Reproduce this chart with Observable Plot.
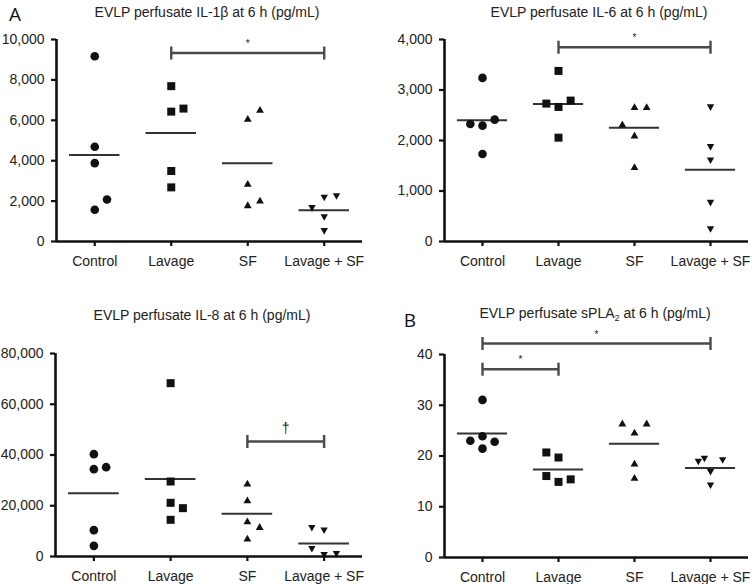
<!DOCTYPE html>
<html><head><meta charset="utf-8">
<script src="https://cdn.jsdelivr.net/npm/d3@7"></script>
<script src="https://cdn.jsdelivr.net/npm/@observablehq/plot@0.6"></script>
<style>
body{margin:0;background:#fff;font-family:"Liberation Sans",Arial,sans-serif;}
#chart{position:relative;width:752px;height:584px;overflow:hidden;background:#fff;}
.panel{position:absolute;}
.panel svg{overflow:visible;}
.title{position:absolute;font-size:14px;color:#222;white-space:nowrap;transform:translate(-50%,-50%);line-height:1;}
.title sub{font-size:9px;vertical-align:-3px;line-height:0;}
.letter{position:absolute;font-family:"Open Sans",sans-serif;font-size:19px;color:#111;transform:translate(-50%,-50%);line-height:1;}
</style></head><body><div id="chart"></div>
<script>
// ---- data ----
const groups = ["Control", "Lavage", "SF", "Lavage + SF"];

// IL-1β (pg/mL)
const il1bValues = [[9170, 4690, 3880, 2080, 1570], [7690, 6430, 6580, 3490, 2680], [6545, 6100, 2880, 2050, 1820], [2150, 2230, 1640, 1190, 500]];
const il1bColumns = [[0, 0, 0, 1, 0], [0, 0, 1, 0, 0], [1, 0, 0, 1, 0], [0, 1, -1, 0, 0]];
const il1bTicks = [0, 2000, 4000, 6000, 8000, 10000];
const il1bSig = [{from: 1, to: 3, level: 9330, mark: "*"}];

// IL-6 (pg/mL)
const il6Values = [[3240, 2327, 2294, 2413, 1732], [3378, 2731, 2664, 2790, 2056], [2671, 2671, 2327, 2109, 1481], [2651, 1864, 1600, 760, 238]];
const il6Columns = [[0, -1, 0, 1, 0], [0, -1, 0, 1, 0], [0, 1, -1, 0, 0], [0, 0, 0, 0, 0]];
const il6Ticks = [0, 1000, 2000, 3000, 4000];
const il6Sig = [{from: 1, to: 3, level: 3847, mark: "*"}];

// IL-8 (pg/mL)
const il8Values = [[40330, 34420, 35200, 10380, 4200], [68310, 29560, 21150, 19050, 14450], [28900, 22330, 14060, 11820, 7230], [11170, 10120, 2890, 530, 920]];
const il8Columns = [[0, 0, 1, 0, 0], [0, 0, 0, 1, 0], [0, 0, 0, 1, 0], [-1, 0, -1, 0, 1]];
const il8Ticks = [0, 20000, 40000, 60000, 80000];
const il8Sig = [{from: 2, to: 3, level: 45320, mark: "†"}];

// sPLA2 (pg/mL)
const splaValues = [[31.05, 23.9, 23.0, 22.8, 21.45], [20.7, 19.7, 16.05, 14.9, 15.4], [26.5, 26.5, 24.7, 18.6, 15.8], [18.8, 19.4, 19.1, 16.8, 14.15]];
const splaColumns = [[0, 0, -1, 1, 0], [-1, 0, -1, 0, 1], [-1, 1, 0, 0, 0], [-1, -0.5, 1, 0, 0]];
const splaTicks = [0, 10, 20, 30, 40];
const splaSig = [{from: 0, to: 3, level: 42.17, mark: "*"}, {from: 0, to: 1, level: 37.1, mark: "*"}];

// ---- symbols ----
const symCircle = {draw(c, size) { const r = Math.sqrt(size / Math.PI) * 1.08; c.moveTo(r, 0); c.arc(0, 0, r, 0, 2 * Math.PI); c.closePath(); }};
const symSquare = {draw(c, size) { const r = Math.sqrt(size / Math.PI); c.rect(-r, -r, 2 * r, 2 * r); }};
const symTriUp = {draw(c, size) { const r = Math.sqrt(size / Math.PI); const w = 0.98 * r, h = 0.85 * r; c.moveTo(0, -h); c.lineTo(w, h); c.lineTo(-w, h); c.closePath(); }};
const symTriDown = {draw(c, size) { const r = Math.sqrt(size / Math.PI); const w = 0.92 * r, h = 0.82 * r; c.moveTo(0, h); c.lineTo(w, -h); c.lineTo(-w, -h); c.closePath(); }};
const symCap = {draw(c, size) { const r = Math.sqrt(size / Math.PI); c.moveTo(0, -r); c.lineTo(0, r); }};
const groupSymbols = [symCircle, symSquare, symTriUp, symTriDown];

const JITTER = 0.16, HALF_MEAN = 0.33;

function panel({values, columns, ticks, sig, width, height, marginLeft, marginRight, marginTop, marginBottom}) {
  const rows = [];
  values.forEach((vals, g) => vals.forEach((v, k) => rows.push({g, v, col: columns[g][k]})));
  const means = values.map((vals, g) => ({g, mean: d3.mean(vals)}));
  const xDomain = [-0.5, groups.length - 0.5];
  const yMax = d3.max(ticks);
  const caps = sig.flatMap(s => [{x: s.from, level: s.level}, {x: s.to, level: s.level}]);
  const stars = sig.filter(s => s.mark === "*");
  const daggers = sig.filter(s => s.mark !== "*");
  return Plot.plot({
    width, height, marginLeft, marginRight, marginTop, marginBottom,
    style: {fontFamily: "Liberation Sans, Arial, sans-serif", fontSize: "14px", color: "#222", background: "transparent", overflow: "visible"},
    x: {domain: xDomain, label: null},
    y: {domain: [0, yMax], label: null},
    marks: [
      Plot.axisY({ticks, tickFormat: d3.format(","), tickSize: 5, tickPadding: 7, strokeWidth: 2.2, stroke: "#111", fill: "#222", fontSize: 14, label: null}),
      Plot.axisX({ticks: groups.map((_, i) => i), tickFormat: i => groups[i], tickSize: 5, tickPadding: 10, strokeWidth: 2.2, stroke: "#111", fill: "#222", fontSize: 14, label: null}),
      Plot.ruleX([xDomain[0]], {stroke: "#111", strokeWidth: 2.6}),
      Plot.ruleY([0], {stroke: "#111", strokeWidth: 2.6}),
      Plot.ruleY(means, {x1: d => d.g - HALF_MEAN, x2: d => d.g + HALF_MEAN, y: "mean", stroke: "#333", strokeWidth: 2}),
      ...groupSymbols.map((sym, g) => Plot.dot(rows.filter(d => d.g === g), {x: d => d.g + d.col * JITTER, y: "v", symbol: sym, r: 4, fill: "#111", stroke: "none"})),
      Plot.ruleY(sig, {x1: "from", x2: "to", y: "level", stroke: "#4a4a4a", strokeWidth: 2.4}),
      Plot.dot(caps, {x: "x", y: "level", symbol: symCap, r: 6.5, fill: "none", stroke: "#4a4a4a", strokeWidth: 2.4}),
      Plot.text(stars, {x: d => (d.from + d.to) / 2, y: "level", text: "mark", dy: -9, lineAnchor: "middle", fontSize: 10, fill: "#222"}),
      Plot.text(daggers, {x: d => (d.from + d.to) / 2, y: "level", text: "mark", dy: -13, lineAnchor: "middle", fontSize: 14, fill: "#222"})
    ]
  });
}

const chart = document.getElementById("chart");
function place(el, left, top) { const d = document.createElement("div"); d.className = "panel"; d.style.left = left + "px"; d.style.top = top + "px"; d.appendChild(el); chart.appendChild(d); }
function label(html, cls, x, y) { const d = document.createElement("div"); d.className = cls; d.innerHTML = html; d.style.left = x + "px"; d.style.top = y + "px"; chart.appendChild(d); }

place(panel({values: il1bValues, columns: il1bColumns, ticks: il1bTicks, sig: il1bSig, width: 376, height: 280, marginLeft: 56, marginRight: 14, marginTop: 39, marginBottom: 39}), 0, 0);
place(panel({values: il6Values, columns: il6Columns, ticks: il6Ticks, sig: il6Sig, width: 376, height: 280, marginLeft: 68, marginRight: 4, marginTop: 39, marginBottom: 39}), 376, 0);
place(panel({values: il8Values, columns: il8Columns, ticks: il8Ticks, sig: il8Sig, width: 376, height: 294, marginLeft: 55, marginRight: 14, marginTop: 63, marginBottom: 28}), 0, 290);
place(panel({values: splaValues, columns: splaColumns, ticks: splaTicks, sig: splaSig, width: 376, height: 294, marginLeft: 68, marginRight: 4, marginTop: 64, marginBottom: 27}), 376, 290);

label("EVLP perfusate IL-1β at 6 h (pg/mL)", "title", 207, 12);
label("EVLP perfusate IL-6 at 6 h (pg/mL)", "title", 599, 12);
label("EVLP perfusate IL-8 at 6 h (pg/mL)", "title", 202, 315);
label("EVLP perfusate sPLA<sub>2</sub> at 6 h (pg/mL)", "title", 595, 313);
label("A", "letter", 15, 14);
label("B", "letter", 410, 320);
</script></body></html>
